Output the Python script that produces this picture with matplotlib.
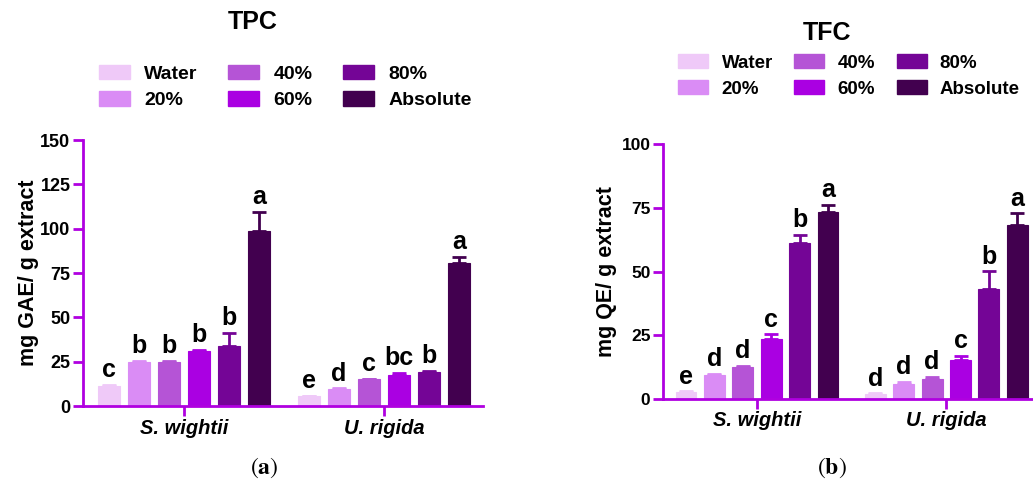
import numpy as np
import matplotlib
matplotlib.use("Agg")
import matplotlib.pyplot as plt
from matplotlib.patches import Patch

plt.rcParams['font.family'] = ['Liberation Sans', 'DejaVu Sans']
plt.rcParams['mathtext.fontset'] = 'stix'

species = ["S. wightii", "U. rigida"]
solvents = ["Water", "20%", "40%", "60%", "80%", "Absolute"]
colors = ["#efc9f8", "#da8cf5", "#b554d6", "#aa00e2", "#740596", "#42004f"]

# TPC (mg GAE / g extract): rows = species, cols = solvents
tpc_mean = [[11.5, 24.8, 25.0, 31.2, 33.8, 98.7],
            [5.5, 9.6, 15.0, 17.5, 19.0, 80.6]]
tpc_err = [[0.3, 0.5, 0.3, 0.5, 7.5, 11.0],
           [0.3, 0.3, 0.5, 1.3, 1.0, 3.6]]
tpc_letters = [["c", "b", "b", "b", "b", "a"],
               ["e", "d", "c", "bc", "b", "a"]]

# TFC (mg QE / g extract)
tfc_mean = [[2.9, 9.4, 12.7, 23.5, 61.4, 73.3],
            [2.0, 5.8, 7.9, 15.4, 43.3, 68.2]]
tfc_err = [[0.2, 0.6, 0.4, 1.9, 3.0, 2.9],
           [0.2, 1.0, 0.9, 1.5, 6.8, 4.7]]
tfc_letters = [["e", "d", "d", "c", "b", "a"],
               ["d", "d", "d", "c", "b", "a"]]

axis_color = "#b000e0"
step = 0.15
width = 0.11

fig = plt.figure(figsize=(10.33, 4.88), dpi=100)


def draw_panel(ax, means, errs, letters, ymax, yticks, ylabel, xlim, label_size, pad):
    offsets = (np.arange(len(solvents)) - 2.5) * step
    for g in range(len(species)):
        for i, c in enumerate(colors):
            x = g + offsets[i]
            ax.bar(x, means[g][i], width, color=c, edgecolor=c, linewidth=0.8, zorder=2)
            ax.errorbar(x, means[g][i], yerr=[[0], [errs[g][i]]], fmt="none",
                        ecolor=c, elinewidth=2, capsize=5, capthick=2, zorder=3)
            ax.text(x, means[g][i] + errs[g][i] + ymax * 0.01, letters[g][i],
                    ha="center", va="bottom", fontsize=18, fontweight="bold")
    ax.set_xlim(*xlim)
    ax.set_ylim(0, ymax)
    ax.set_yticks(yticks)
    ax.set_xticks(range(len(species)))
    ax.set_xticklabels(species, fontsize=14.5, fontweight="bold", fontstyle="italic")
    for t in ax.get_yticklabels():
        t.set_fontsize(label_size)
        t.set_fontweight("bold")
    for s in ["top", "right"]:
        ax.spines[s].set_visible(False)
    for s in ["left", "bottom"]:
        ax.spines[s].set_color(axis_color)
        ax.spines[s].set_linewidth(2)
    ax.tick_params(axis="both", color=axis_color, width=2, length=7, pad=2)
    ax.set_ylabel(ylabel, fontsize=15.5, fontweight="bold", labelpad=pad)


ax1 = fig.add_axes([0.0803, 0.168, 0.3872, 0.545])
draw_panel(ax1, tpc_mean, tpc_err, tpc_letters, 150, [0, 25, 50, 75, 100, 125, 150],
           "mg GAE/ g extract", (-0.505, 1.495), 13, 1)

ax2 = fig.add_axes([0.6418, 0.1824, 0.3582, 0.522])
draw_panel(ax2, tfc_mean, tfc_err, tfc_letters, 100, [0, 25, 50, 75, 100],
           "mg QE/ g extract", (-0.497, 1.458), 12.5, 3)

handles = [Patch(facecolor=c, edgecolor=c) for c in colors]

fig.text(253 / 1033, 1 - 22 / 488, "TPC", ha="center", va="center",
         fontsize=18, fontweight="bold")
fig.text(827 / 1033, 1 - 33 / 488, "TFC", ha="center", va="center",
         fontsize=18, fontweight="bold")

leg_kw = dict(ncol=3, loc="upper left", frameon=False, borderpad=0,
              handleheight=0.75, labelspacing=0.45)
fig.legend(handles, solvents, bbox_to_anchor=(89 / 1033, 1 - 55 / 488),
           prop={"size": 14, "weight": "bold"}, handlelength=1.6,
           handletextpad=0.75, columnspacing=1.55, **leg_kw)
fig.legend(handles, solvents, bbox_to_anchor=(669 / 1033, 1 - 45 / 488),
           prop={"size": 13.5, "weight": "bold"}, handlelength=1.6,
           handletextpad=0.7, columnspacing=1.15, **leg_kw)

fig.text(264 / 1033, 1 - 468 / 488, r"$(\mathbf{a})$", ha="center", va="center",
         fontsize=17)
fig.text(832 / 1033, 1 - 468 / 488, r"$(\mathbf{b})$", ha="center", va="center",
         fontsize=17)

fig.savefig("out.png", dpi=100)
